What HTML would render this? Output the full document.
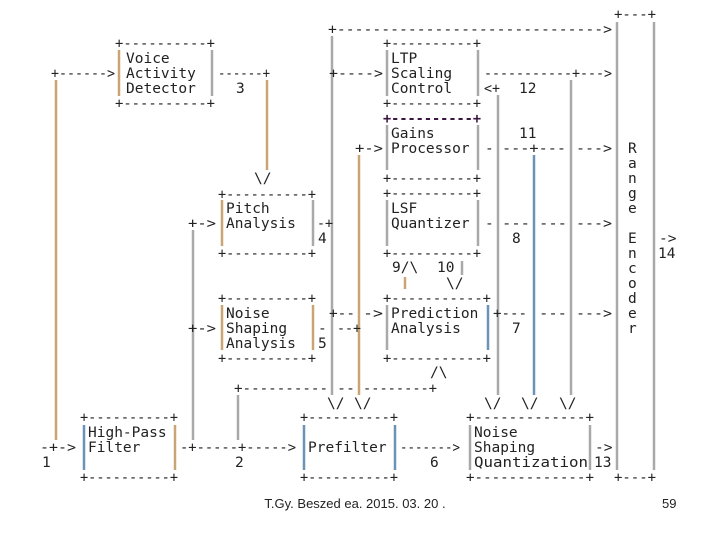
<!DOCTYPE html>
<html><head><meta charset="utf-8"><style>
html,body{margin:0;padding:0;background:#fff;width:720px;height:540px;overflow:hidden}
svg{display:block}
text{font-family:"DejaVu Sans Mono","Liberation Mono",monospace;font-size:14.5px;fill:#222}
.p{fill:#3a1540;font-weight:bold}
.f{font-family:"Liberation Sans",Arial,sans-serif;font-size:13px;fill:#222}
</style></head><body>
<svg width="720" height="540" viewBox="0 0 720 540" xmlns="http://www.w3.org/2000/svg">
<g stroke-width="2.5" fill="none">
<g stroke="#c9a475">
<line x1="56" y1="80" x2="56" y2="440"/>
<line x1="119" y1="50" x2="119" y2="96"/>
<line x1="267" y1="80" x2="267" y2="170"/>
<line x1="222" y1="200" x2="222" y2="246"/>
<line x1="359" y1="155" x2="359" y2="395"/>
<line x1="222" y1="305" x2="222" y2="350"/>
<line x1="313" y1="305" x2="313" y2="350"/>
<line x1="175" y1="425" x2="175" y2="470"/>
<line x1="405" y1="277" x2="405" y2="289"/>
</g>
<g stroke="#a9a9a9">
<line x1="212" y1="50" x2="212" y2="96"/>
<line x1="313" y1="200" x2="313" y2="246"/>
<line x1="332" y1="36" x2="332" y2="395"/>
<line x1="193" y1="230" x2="193" y2="440"/>
<line x1="387" y1="50" x2="387" y2="96"/><line x1="478" y1="50" x2="478" y2="96"/>
<line x1="387" y1="125" x2="387" y2="170"/><line x1="478" y1="125" x2="478" y2="170"/>
<line x1="387" y1="200" x2="387" y2="246"/><line x1="478" y1="200" x2="478" y2="246"/>
<line x1="387" y1="305" x2="387" y2="350"/>
<line x1="498" y1="95" x2="498" y2="395"/>
<line x1="571" y1="80" x2="571" y2="395"/>
<line x1="617" y1="22" x2="617" y2="470"/>
<line x1="654" y1="22" x2="654" y2="470"/>
<line x1="238" y1="395" x2="238" y2="440"/>
<line x1="470" y1="425" x2="470" y2="470"/>
<line x1="590" y1="425" x2="590" y2="470"/>
<line x1="462" y1="261" x2="462" y2="275"/>
</g>
<g stroke="#6b93b8">
<line x1="534" y1="155" x2="534" y2="395"/>
<line x1="488" y1="305" x2="488" y2="350"/>
<line x1="84" y1="425" x2="84" y2="470"/>
<line x1="304" y1="425" x2="304" y2="470"/>
<line x1="395" y1="425" x2="395" y2="470"/>
</g>
</g>
<g>
<text x="614" y="19" textLength="42" lengthAdjust="spacingAndGlyphs">+---+</text>
<text x="614" y="482" textLength="42" lengthAdjust="spacingAndGlyphs">+---+</text>
<text x="328" y="34" textLength="284" lengthAdjust="spacingAndGlyphs">+------------------------------&gt;</text>
<text x="628" y="153">R</text><text x="628" y="168">a</text><text x="628" y="183">n</text><text x="628" y="198">g</text><text x="628" y="213">e</text>
<text x="628" y="243">E</text><text x="628" y="258">n</text><text x="628" y="273">c</text><text x="628" y="288">o</text><text x="628" y="303">d</text><text x="628" y="318">e</text><text x="628" y="333">r</text>
<text x="659" y="243">-&gt;</text><text x="658" y="258">14</text>

<text x="115" y="48" textLength="100" lengthAdjust="spacingAndGlyphs">+----------+</text>
<text x="115" y="108" textLength="100" lengthAdjust="spacingAndGlyphs">+----------+</text>
<text x="126" y="63">Voice</text><text x="126" y="78">Activity</text><text x="126" y="93">Detector</text>
<text x="51" y="78" textLength="64" lengthAdjust="spacingAndGlyphs">+------&gt;</text>
<text x="218" y="78" textLength="52" lengthAdjust="spacingAndGlyphs">------+</text>
<text x="236" y="93">3</text>
<text x="254" y="183">\/</text>

<text x="218" y="199" textLength="98" lengthAdjust="spacingAndGlyphs">+----------+</text>
<text x="218" y="258" textLength="98" lengthAdjust="spacingAndGlyphs">+----------+</text>
<text x="226" y="213">Pitch</text><text x="226" y="228">Analysis</text>
<text x="188" y="228" textLength="28" lengthAdjust="spacingAndGlyphs">+-&gt;</text>
<text x="317" y="228" textLength="16" lengthAdjust="spacingAndGlyphs">-+</text>
<text x="318" y="243">4</text>

<text x="218" y="303" textLength="98" lengthAdjust="spacingAndGlyphs">+----------+</text>
<text x="218" y="363" textLength="98" lengthAdjust="spacingAndGlyphs">+----------+</text>
<text x="226" y="318">Noise</text><text x="226" y="333">Shaping</text><text x="226" y="348">Analysis</text>
<text x="188" y="333" textLength="28" lengthAdjust="spacingAndGlyphs">+-&gt;</text>
<text x="318" y="348">5</text>
<text x="329" y="318" textLength="26" lengthAdjust="spacingAndGlyphs">+--</text>
<text x="363" y="318" textLength="20" lengthAdjust="spacingAndGlyphs">-&gt;</text>
<text x="318" y="333">-</text>
<text x="337" y="333" textLength="24" lengthAdjust="spacingAndGlyphs">--+</text>

<text x="383" y="48" textLength="98" lengthAdjust="spacingAndGlyphs">+----------+</text>
<text x="383" y="108" textLength="98" lengthAdjust="spacingAndGlyphs">+----------+</text>
<text x="391" y="63">LTP</text><text x="391" y="78">Scaling</text><text x="391" y="93">Control</text>
<text x="329" y="78" textLength="54" lengthAdjust="spacingAndGlyphs">+----&gt;</text>
<text x="484" y="78" textLength="128" lengthAdjust="spacingAndGlyphs">-----------+---&gt;</text>
<text x="484" y="93" textLength="16" lengthAdjust="spacingAndGlyphs">&lt;+</text>
<text x="519" y="93">12</text>

<text x="383" y="123" textLength="98" lengthAdjust="spacingAndGlyphs" class="p">+----------+</text>
<text x="383" y="183" textLength="98" lengthAdjust="spacingAndGlyphs">+----------+</text>
<text x="391" y="138">Gains</text><text x="391" y="153">Processor</text>
<text x="355" y="153" textLength="28" lengthAdjust="spacingAndGlyphs">+-&gt;</text>
<text x="485" y="153">-</text>
<text x="502" y="153" textLength="64" lengthAdjust="spacingAndGlyphs">---+---</text>
<text x="576" y="153" textLength="36" lengthAdjust="spacingAndGlyphs">---&gt;</text>
<text x="519" y="138">11</text>

<text x="383" y="198" textLength="98" lengthAdjust="spacingAndGlyphs">+----------+</text>
<text x="383" y="258" textLength="98" lengthAdjust="spacingAndGlyphs">+----------+</text>
<text x="391" y="213">LSF</text><text x="391" y="228">Quantizer</text>
<text x="485" y="228">-</text>
<text x="502" y="228" textLength="28" lengthAdjust="spacingAndGlyphs">---</text>
<text x="539" y="228" textLength="28" lengthAdjust="spacingAndGlyphs">---</text>
<text x="576" y="228" textLength="36" lengthAdjust="spacingAndGlyphs">---&gt;</text>
<text x="512" y="243">8</text>
<text x="392" y="272">9/\</text><text x="437" y="272">10</text>
<text x="446" y="288">\/</text>

<text x="383" y="303" textLength="108" lengthAdjust="spacingAndGlyphs">+-----------+</text>
<text x="383" y="363" textLength="108" lengthAdjust="spacingAndGlyphs">+-----------+</text>
<text x="391" y="318">Prediction</text><text x="391" y="333">Analysis</text>
<text x="493" y="318" textLength="34" lengthAdjust="spacingAndGlyphs">+---</text>
<text x="539" y="318" textLength="28" lengthAdjust="spacingAndGlyphs">---</text>
<text x="576" y="318" textLength="36" lengthAdjust="spacingAndGlyphs">---&gt;</text>
<text x="512" y="333">7</text>
<text x="430" y="377">/\</text>

<text x="234" y="393" textLength="94" lengthAdjust="spacingAndGlyphs">+----------</text>
<text x="337" y="393" textLength="18" lengthAdjust="spacingAndGlyphs">--</text>
<text x="363" y="393" textLength="74" lengthAdjust="spacingAndGlyphs">--------+</text>
<text x="327" y="408">\/</text><text x="354" y="408">\/</text>
<text x="484" y="408">\/</text><text x="521" y="408">\/</text><text x="559" y="408">\/</text>

<text x="80" y="422" textLength="98" lengthAdjust="spacingAndGlyphs">+----------+</text>
<text x="80" y="482" textLength="98" lengthAdjust="spacingAndGlyphs">+----------+</text>
<text x="88" y="437">High-Pass</text><text x="88" y="452">Filter</text>
<text x="40" y="452" textLength="36" lengthAdjust="spacingAndGlyphs">-+-&gt;</text>
<text x="42" y="467">1</text>
<text x="180" y="452" textLength="116" lengthAdjust="spacingAndGlyphs">-+-----+-----&gt;</text>
<text x="235" y="467">2</text>

<text x="300" y="422" textLength="98" lengthAdjust="spacingAndGlyphs">+----------+</text>
<text x="300" y="482" textLength="98" lengthAdjust="spacingAndGlyphs">+----------+</text>
<text x="308" y="452">Prefilter</text>
<text x="400" y="452" textLength="60" lengthAdjust="spacingAndGlyphs">-------&gt;</text>
<text x="430" y="467">6</text>

<text x="466" y="422" textLength="128" lengthAdjust="spacingAndGlyphs">+-------------+</text>
<text x="466" y="482" textLength="128" lengthAdjust="spacingAndGlyphs">+-------------+</text>
<text x="474" y="437">Noise</text><text x="474" y="452">Shaping</text><text x="474" y="467" textLength="114" lengthAdjust="spacingAndGlyphs">Quantization</text>
<text x="595" y="452">-&gt;</text><text x="594" y="467">13</text>

<text class="f" x="355" y="508" text-anchor="middle">T.Gy. Beszed ea. 2015. 03. 20 .</text>
<text class="f" x="662" y="508">59</text>
</g>
</svg>
</body></html>
